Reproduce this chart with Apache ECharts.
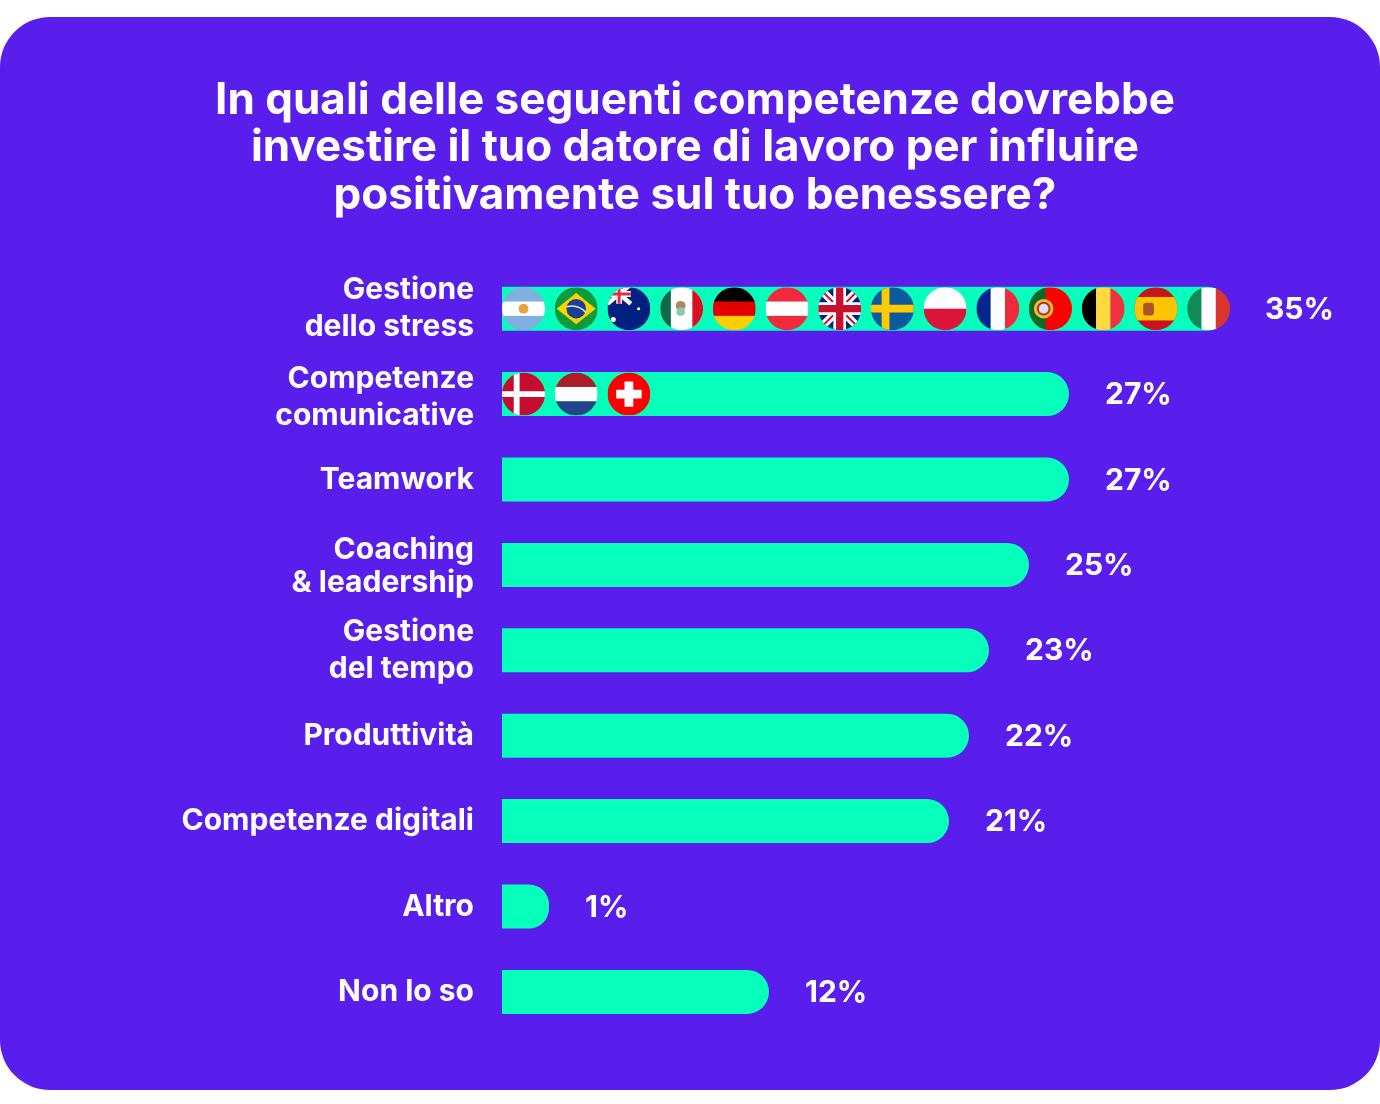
<!DOCTYPE html>
<html><head><meta charset="utf-8">
<style>html,body{margin:0;padding:0;background:#fff}#c{width:1380px;height:1104px}</style>
<script src="https://cdn.jsdelivr.net/npm/echarts@6/dist/echarts.min.js"></script>
</head><body><div id="c"></div>
<script>
const titleLines = ['In quali delle seguenti competenze dovrebbe','investire il tuo datore di lavoro per influire','positivamente sul tuo benessere?'];
const categories = ['Gestione\ndello stress','Competenze\ncomunicative','Teamwork','Coaching\n& leadership','Gestione\ndel tempo','Produttività','Competenze digitali','Altro','Non lo so'];
const values = [35,27,27,25,23,22,21,1,12];
const flagsFirstRow = ['ar','br','au','mx','de','at','gb','se','pl','fr','pt','be','es','it'];
const flagsSecondRow = ['dk','nl','ch'];

const PURPLE='#5a1eec', MINT='#06ffbb';
const FONT='Inter, Lato, sans-serif';
const LEAD=1.35, SLOT=2.635, FIRST=1.075, DIAM=43;

function h(cs){const n=cs.length;return cs.map((c,i)=>`<rect x="0" y="${i*44/n}" width="44" height="${44/n+.5}" fill="${c}"/>`).join('');}
function v(cs){const n=cs.length;return cs.map((c,i)=>`<rect y="0" x="${i*44/n}" height="44" width="${44/n+.5}" fill="${c}"/>`).join('');}
const art={
 ar:h(['#7fb0e0','#fff','#7fb0e0'])+'<circle cx="22" cy="22" r="5" fill="#e8a33c"/>',
 br:'<rect width="44" height="44" fill="#119a3c"/><path d="M22 6 42 22 22 38 2 22Z" fill="#fbd400"/><circle cx="22" cy="22" r="10" fill="#1d3f8f"/><path d="M12 20Q24 17 32 26" stroke="#dfe6f0" stroke-width="1.6" fill="none"/>',
 au:'<rect width="44" height="44" fill="#00207f"/><g transform="translate(0 -3)"><path d="M0 0 24 20M24 0 0 20" stroke="#fff" stroke-width="4.5"/><path d="M12 0V20M0 10H24" stroke="#fff" stroke-width="6"/><path d="M12 0V20M0 10H24" stroke="#e8283c" stroke-width="3"/></g><circle cx="32" cy="22" r="1.6" fill="#fff"/><circle cx="6" cy="33" r="2.6" fill="#fff"/>',
 mx:'<rect width="44" height="44" fill="#fff"/><rect width="11" height="44" fill="#0b6b47"/><rect x="33" width="11" height="44" fill="#d8101f"/><circle cx="21" cy="19" r="5" fill="#a78a5e"/><circle cx="21" cy="25" r="4.5" fill="#8fc4b6"/>',
 de:h(['#000','#e20000','#ffce00']),
 at:h(['#ee2a3c','#fff','#ee2a3c']),
 gb:'<rect width="44" height="44" fill="#00207f"/><path d="M0 0 44 44M44 0 0 44" stroke="#fff" stroke-width="8"/><path d="M0 0 44 44M44 0 0 44" stroke="#c8102e" stroke-width="2"/><path d="M22 0V44M0 22H44" stroke="#fff" stroke-width="13"/><path d="M22 0V44M0 22H44" stroke="#c8102e" stroke-width="7.5"/>',
 se:'<rect width="44" height="44" fill="#0a5a9e"/><path d="M15 0V44M0 22H44" stroke="#fecb00" stroke-width="8"/>',
 pl:h(['#fff','#dc143c']),
 fr:v(['#00268f','#fff','#ee2a3c']),
 pt:'<rect width="44" height="44" fill="#ff0000"/><rect width="17" height="44" fill="#0a6a2a"/><circle cx="15" cy="22" r="10" fill="#e6c229"/><circle cx="15" cy="22" r="6" fill="#d8e2f0" stroke="#c8242c" stroke-width="2"/>',
 be:v(['#000','#fdda3f','#ef3340']),
 es:'<rect width="44" height="44" fill="#c8141e"/><rect y="10" width="44" height="24" fill="#ffc400"/><rect x="9" y="16" width="11" height="13" rx="3" fill="#a9562b"/>',
 it:v(['#118a55','#fff','#d8362f']),
 dk:'<rect width="44" height="44" fill="#c60c30"/><path d="M15 0V44M0 22H44" stroke="#fff" stroke-width="6"/>',
 nl:h(['#ae1c28','#fff','#21468b']),
 ch:'<rect width="44" height="44" fill="#ff0000"/><path d="M22 9V35M9 22H35" stroke="#fff" stroke-width="9"/>'
};
function flagUri(code){
 const svg=`<svg xmlns="http://www.w3.org/2000/svg" width="176" height="176" viewBox="0 0 44 44"><defs><clipPath id="k"><circle cx="22" cy="22" r="22"/></clipPath></defs><g clip-path="url(#k)">${art[code]}</g></svg>`;
 return 'data:image/svg+xml;charset=utf-8,'+encodeURIComponent(svg);
}
const flagData=[];
flagsFirstRow.forEach((c,i)=>flagData.push({value:[FIRST+i*SLOT,0],code:c}));
flagsSecondRow.forEach((c,i)=>flagData.push({value:[FIRST+i*SLOT,1],code:c}));

const LABEL={color:'#fff',fontFamily:FONT,fontWeight:700,fontSize:30};
const chart=echarts.init(document.getElementById('c'),null,{renderer:'canvas'});
chart.setOption({
 animation:false,
 backgroundColor:'#fff',
 graphic:[{type:'rect',z:-10,silent:true,shape:{x:0,y:17,width:1380,height:1073,r:50},style:{fill:PURPLE}}],
 title:{text:titleLines.join('\n'),left:690,top:72,textAlign:'center',
  textStyle:{color:'#fff',fontFamily:FONT,fontWeight:700,fontSize:44,lineHeight:47.5}},
 grid:{left:502,top:266,width:760,height:768.6,containLabel:false},
 xAxis:{type:'value',min:0,max:38,show:false},
 yAxis:{type:'category',inverse:true,data:categories,
  axisLine:{show:false},axisTick:{show:false},splitLine:{show:false},
  axisLabel:Object.assign({},LABEL,{margin:28,align:'right',lineHeight:37,
   formatter:(t)=>{
     const p=t.split('\n');
     if(t.indexOf('Coaching')===0) return '{c| }\n{t|'+p[0]+'}\n{t|'+p[1]+'}';
     if(t.indexOf('Competenze\n')===0) return '{s| }\n{n|'+p[0]+'}\n{n|'+p[1]+'}';
     return t;
   },
   rich:{t:Object.assign({},LABEL,{lineHeight:33}),
         n:Object.assign({},LABEL,{lineHeight:37}),
         s:{fontSize:4,lineHeight:6},
         c:{fontSize:4,lineHeight:4}}})},
 series:[
  {type:'bar',stack:'s',barWidth:44,silent:true,data:values.map(()=>LEAD),itemStyle:{color:MINT}},
  {type:'bar',stack:'s',barWidth:44,silent:true,data:values,
   itemStyle:{color:MINT,borderRadius:[0,22,22,0]},
   label:{show:true,position:'right',distance:36,offset:[0,1],formatter:'{c}%',color:'#fff',fontFamily:FONT,fontWeight:700,fontSize:30}},
  {type:'custom',z:5,silent:true,coordinateSystem:'cartesian2d',data:flagData,encode:{x:0,y:1},
   renderItem:(p,api)=>{
    const pt=api.coord([api.value(0),api.value(1)]);
    return {type:'image',style:{image:flagUri(flagData[p.dataIndex].code),x:pt[0]-DIAM/2,y:pt[1]-DIAM/2,width:DIAM,height:DIAM}};
   }}
 ]
});
</script></body></html>
